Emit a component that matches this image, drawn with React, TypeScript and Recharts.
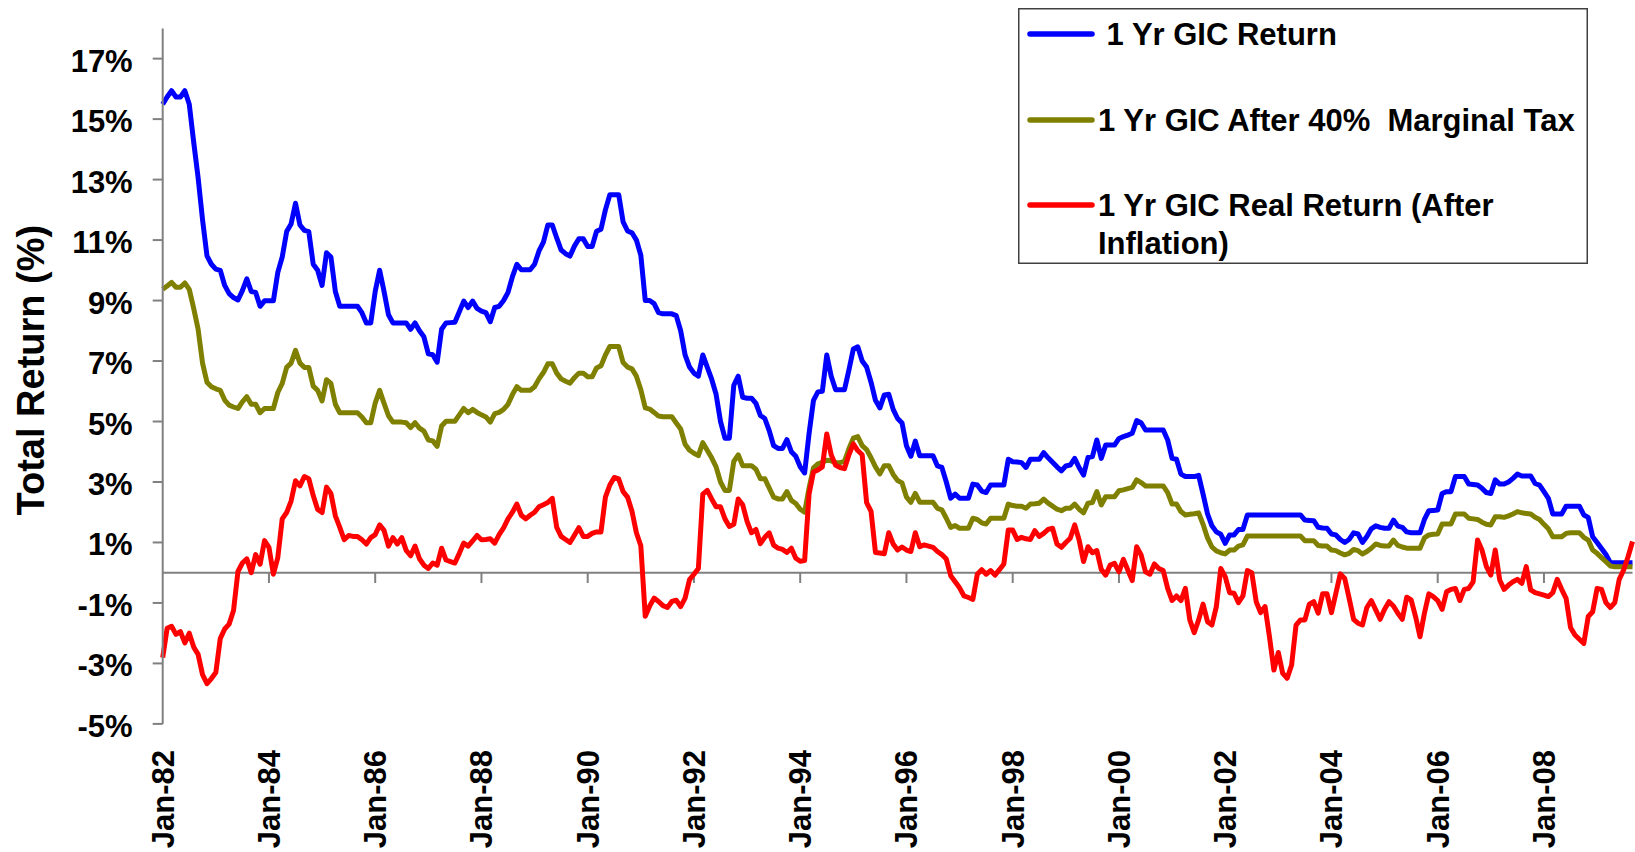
import { LineChart, Line, XAxis, YAxis, ReferenceLine, Legend } from "recharts";

const FONT = 'Arial, "Liberation Sans", Helvetica, sans-serif';

// monthly series, Jan-82 .. Sep-09, one row per year
const gicReturn = [
  15.49, 15.73, 15.94, 15.73, 15.73, 15.94, 15.49, 14.24, 13.06, 11.67, 10.48, 10.2,
  10.04, 10.0, 9.5, 9.23, 9.1, 9.02, 9.33, 9.72, 9.3, 9.27, 8.81, 8.99,
  8.99, 8.99, 9.93, 10.44, 11.28, 11.53, 12.22, 11.5, 11.32, 11.28, 10.2, 10.0,
  9.5, 10.58, 10.44, 9.3, 8.81, 8.81, 8.81, 8.81, 8.81, 8.6, 8.26, 8.26,
  9.3, 10.0, 9.3, 8.53, 8.26, 8.26, 8.26, 8.26, 8.05, 8.26, 8.0, 7.8,
  7.24, 7.21, 6.96, 8.05, 8.26, 8.27, 8.28, 8.63, 8.98, 8.77, 8.98, 8.74,
  8.65, 8.6, 8.3, 8.77, 8.81, 9.0, 9.27, 9.79, 10.2, 10.02, 10.02, 10.02,
  10.2, 10.64, 10.93, 11.5, 11.5, 11.07, 10.67, 10.55, 10.47, 10.8, 11.04, 11.04,
  10.79, 10.79, 11.29, 11.36, 12.0, 12.5, 12.5, 12.5, 11.6, 11.3, 11.24, 11.0,
  10.5, 9.0, 9.0, 8.9, 8.6, 8.56, 8.56, 8.56, 8.5, 8.0, 7.2, 6.8,
  6.6, 6.5, 7.2, 6.8, 6.4, 5.9, 5.0, 4.45, 4.45, 6.2, 6.5, 5.8,
  5.77, 5.77, 5.6, 5.2, 5.1, 4.7, 4.2, 4.11, 4.11, 4.4, 4.0, 3.85,
  3.5, 3.3, 4.6, 5.7, 5.98, 6.0, 7.2, 6.5, 6.05, 6.05, 6.05, 6.7,
  7.4, 7.47, 7.0, 6.8, 6.3, 5.7, 5.45, 5.88, 5.9, 5.4, 5.1, 4.95,
  4.2, 3.85, 4.35, 3.87, 3.87, 3.87, 3.87, 3.53, 3.48, 3.0, 2.46, 2.6,
  2.46, 2.46, 2.46, 2.93, 2.9, 2.7, 2.65, 2.9, 2.9, 2.9, 2.9, 3.75,
  3.67, 3.66, 3.64, 3.48, 3.75, 3.75, 3.75, 3.97, 3.8, 3.65, 3.5, 3.37,
  3.53, 3.56, 3.78, 3.48, 3.23, 3.81, 3.84, 4.39, 3.78, 4.22, 4.22, 4.22,
  4.44, 4.5, 4.55, 4.61, 5.03, 4.96, 4.72, 4.72, 4.72, 4.72, 4.72, 4.39,
  3.78, 3.75, 3.26, 3.18, 3.18, 3.18, 3.22, 2.6, 1.95, 1.55, 1.35, 1.27,
  0.97, 1.25, 1.25, 1.43, 1.43, 1.91, 1.91, 1.91, 1.91, 1.91, 1.91, 1.91,
  1.91, 1.91, 1.91, 1.91, 1.91, 1.91, 1.74, 1.73, 1.72, 1.5, 1.48, 1.47,
  1.28, 1.25, 1.1, 1.0, 1.1, 1.32, 1.28, 1.0, 1.2, 1.45, 1.55, 1.5,
  1.47, 1.47, 1.74, 1.54, 1.5, 1.35, 1.32, 1.32, 1.32, 1.76, 2.05, 2.06,
  2.07, 2.62, 2.68, 2.68, 3.18, 3.18, 3.18, 2.93, 2.92, 2.9, 2.79, 2.65,
  2.62, 3.07, 2.93, 2.93, 3.0, 3.12, 3.26, 3.2, 3.2, 3.2, 2.95, 2.9,
  2.68, 2.46, 1.94, 1.94, 1.94, 2.2, 2.2, 2.2, 2.2, 1.91, 1.83, 1.19,
  1.0, 0.8, 0.6, 0.33, 0.33, 0.33, 0.33, 0.33, 0.33,
];

const afterTax = [
  9.37, 9.48, 9.6, 9.44, 9.44, 9.58, 9.37, 8.74, 8.05, 6.93, 6.3, 6.15,
  6.08, 6.03, 5.71, 5.54, 5.48, 5.43, 5.65, 5.82, 5.57, 5.57, 5.29, 5.43,
  5.43, 5.43, 5.96, 6.26, 6.79, 6.93, 7.35, 6.93, 6.79, 6.79, 6.17, 6.03,
  5.68, 6.38, 6.26, 5.57, 5.29, 5.29, 5.29, 5.29, 5.29, 5.15, 4.96, 4.96,
  5.61, 6.03, 5.6, 5.19, 4.98, 4.98, 4.98, 4.96, 4.8, 4.96, 4.78, 4.68,
  4.39, 4.36, 4.18, 4.85, 5.01, 5.01, 5.01, 5.22, 5.43, 5.29, 5.4, 5.3,
  5.22, 5.15, 4.98, 5.26, 5.3, 5.4, 5.57, 5.89, 6.15, 6.03, 6.03, 6.03,
  6.15, 6.41, 6.62, 6.91, 6.91, 6.6, 6.41, 6.33, 6.27, 6.45, 6.6, 6.6,
  6.48, 6.48, 6.77, 6.84, 7.2, 7.48, 7.48, 7.48, 6.95, 6.8, 6.74, 6.5,
  6.05, 5.45, 5.41, 5.3, 5.18, 5.16, 5.16, 5.16, 4.95, 4.75, 4.25, 4.05,
  3.95, 3.87, 4.3, 4.05, 3.8, 3.5, 3.0, 2.72, 2.72, 3.68, 3.9, 3.54,
  3.54, 3.54, 3.42, 3.11, 3.11, 2.8, 2.5, 2.44, 2.44, 2.68, 2.39, 2.29,
  2.1, 2.0, 2.8, 3.47, 3.6, 3.65, 3.72, 3.7, 3.64, 3.64, 3.68, 4.1,
  4.45, 4.5, 4.2, 4.07, 3.8, 3.5, 3.27, 3.54, 3.54, 3.25, 3.05, 2.97,
  2.5, 2.33, 2.62, 2.33, 2.33, 2.33, 2.33, 2.13, 2.08, 1.8, 1.5, 1.56,
  1.47, 1.47, 1.47, 1.8, 1.76, 1.65, 1.61, 1.8, 1.8, 1.8, 1.8, 2.27,
  2.22, 2.2, 2.2, 2.13, 2.27, 2.28, 2.3, 2.43, 2.3, 2.2, 2.1, 2.05,
  2.13, 2.13, 2.27, 2.1, 1.98, 2.3, 2.32, 2.68, 2.24, 2.51, 2.51, 2.51,
  2.71, 2.74, 2.78, 2.82, 3.07, 2.98, 2.87, 2.87, 2.87, 2.87, 2.87, 2.65,
  2.27, 2.27, 2.02, 1.91, 1.93, 1.95, 1.98, 1.6, 1.15, 0.85, 0.72, 0.66,
  0.62, 0.75, 0.75, 0.88, 0.92, 1.21, 1.21, 1.21, 1.21, 1.21, 1.21, 1.21,
  1.21, 1.21, 1.21, 1.21, 1.21, 1.21, 1.06, 1.06, 1.06, 0.9, 0.88, 0.88,
  0.75, 0.73, 0.65, 0.59, 0.64, 0.77, 0.73, 0.62, 0.7, 0.81, 0.95, 0.9,
  0.88, 0.88, 1.08, 0.9, 0.85, 0.81, 0.81, 0.81, 0.81, 1.15, 1.25, 1.27,
  1.28, 1.61, 1.61, 1.61, 1.94, 1.94, 1.94, 1.8, 1.78, 1.76, 1.67, 1.6,
  1.58, 1.85, 1.85, 1.83, 1.88, 1.94, 2.02, 1.98, 1.96, 1.94, 1.83, 1.76,
  1.6, 1.45, 1.19, 1.19, 1.19, 1.3, 1.32, 1.32, 1.32, 1.17, 1.08, 0.75,
  0.64, 0.5, 0.36, 0.22, 0.2, 0.2, 0.2, 0.2, 0.2,
];

const realReturn = [
  -2.81, -1.84, -1.77, -2.04, -1.95, -2.32, -2.0, -2.46, -2.7, -3.37, -3.67, -3.5,
  -3.3, -2.18, -1.86, -1.7, -1.25, 0.04, 0.32, 0.46, 0.0, 0.6, 0.28, 1.06,
  0.84, -0.05, 0.5, 1.78, 1.99, 2.37, 3.04, 2.87, 3.18, 3.11, 2.55, 2.09,
  1.99, 2.83, 2.62, 1.88, 1.5, 1.09, 1.23, 1.2, 1.2, 1.09, 0.95, 1.16,
  1.26, 1.58, 1.4, 0.88, 1.16, 0.95, 1.16, 0.74, 0.56, 0.88, 0.46, 0.25,
  0.14, 0.32, 0.25, 0.81, 0.42, 0.37, 0.32, 0.64, 0.98, 0.88, 1.05, 1.23,
  1.09, 1.1, 1.12, 0.98, 1.26, 1.48, 1.78, 2.0, 2.27, 1.9, 1.78, 1.9,
  2.0, 2.18, 2.25, 2.32, 2.46, 1.5, 1.2, 1.1, 1.0, 1.24, 1.49, 1.2,
  1.2, 1.3, 1.35, 1.35, 2.5, 2.9, 3.15, 3.1, 2.68, 2.5, 2.03, 1.32,
  0.89, -1.44, -1.1, -0.84, -0.95, -1.09, -1.15, -0.95, -0.91, -1.12, -0.84, -0.23,
  -0.05, 0.14, 2.6, 2.72, 2.44, 2.18, 2.18, 1.78, 1.53, 1.6, 2.44, 2.25,
  1.7, 1.32, 1.43, 0.96, 1.17, 1.32, 0.91, 0.81, 0.77, 0.67, 0.81, 0.48,
  0.38, 0.4, 2.6, 3.33, 3.4, 3.5, 4.59, 3.9, 3.55, 3.48, 3.44, 3.9,
  4.26, 4.04, 3.9, 2.32, 2.03, 0.67, 0.65, 0.63, 1.32, 0.95, 0.75, 0.85,
  0.75, 0.7, 1.32, 0.86, 0.92, 0.88, 0.84, 0.7, 0.6, 0.45, -0.1, -0.3,
  -0.5, -0.77, -0.82, -0.88, -0.05, 0.1, -0.05, 0.07, -0.08, 0.1, 0.29, 1.41,
  1.41, 1.1, 1.17, 1.12, 1.1, 1.39, 1.2, 1.3, 1.43, 1.47, 0.95, 0.84,
  1.0, 1.14, 1.58, 1.08, 0.37, 0.86, 0.66, 0.73, 0.11, -0.08, 0.25, 0.31,
  0.03, 0.44, 0.09, -0.26, 0.86, 0.59, 0.03, -0.05, 0.29, 0.14, 0.07, -0.52,
  -0.92, -0.77, -0.92, -0.52, -1.56, -1.98, -1.56, -1.04, -1.62, -1.73, -1.12, 0.14,
  -0.13, -0.66, -0.68, -0.99, -0.77, 0.07, 0.0, -0.96, -1.32, -1.12, -2.12, -3.22,
  -2.64, -3.33, -3.49, -3.05, -1.73, -1.56, -1.56, -1.04, -0.96, -1.34, -0.7, -0.7,
  -1.32, -0.68, -0.04, -0.19, -0.85, -1.54, -1.67, -1.73, -1.15, -0.92, -1.23, -1.54,
  -1.21, -0.96, -1.1, -1.34, -1.54, -0.81, -0.9, -1.45, -2.12, -1.34, -0.7, -0.79,
  -0.92, -1.21, -0.63, -0.55, -0.52, -0.92, -0.55, -0.52, -0.3, 1.08, 0.75, 0.2,
  -0.08, 0.75, -0.24, -0.55, -0.41, -0.3, -0.22, -0.35, 0.2, -0.57, -0.66, -0.7,
  -0.74, -0.79, -0.66, -0.22, -0.55, -0.85, -1.81, -2.06, -2.2, -2.34, -1.45, -1.29,
  -0.52, -0.55, -0.99, -1.15, -0.99, -0.22, 0.09, 0.53, 1.03,
];

const monthNames = ["Jan", "Feb", "Mar", "Apr", "May", "Jun", "Jul", "Aug", "Sep", "Oct", "Nov", "Dec"];
const yTicks = [-5, -3, -1, 1, 3, 5, 7, 9, 11, 13, 15, 17];

const categories = gicReturn.map((_, i) => {
  const yy = (82 + Math.floor(i / 12)) % 100;
  return `${monthNames[i % 12]}-${String(yy).padStart(2, "0")}`;
});
const yearTicks = categories.filter((_, i) => i % 24 === 0);

const data = categories.map((month, i) => ({
  month,
  gic: gicReturn[i],
  afterTax: afterTax[i],
  real: realReturn[i],
}));

const MonthTick = (props: any) => {
  const { x, y, payload } = props;
  const ty = y + 26;
  return (
    <text
      x={x}
      y={ty}
      dy={11}
      transform={`rotate(-90 ${x} ${ty})`}
      textAnchor="end"
      fontSize={31}
      fontWeight="bold"
      fontFamily={FONT}
      fill="#000"
    >
      {payload.value}
    </text>
  );
};

const AxisTitle = (props: any) => {
  const vb = props.viewBox || { y: 28, height: 696 };
  const cx = 30;
  const cy = vb.y + vb.height / 2 - 6;
  return (
    <text
      x={cx}
      y={cy}
      dy={14}
      transform={`rotate(-90 ${cx} ${cy})`}
      textAnchor="middle"
      fontSize={38}
      fontWeight="bold"
      fontFamily={FONT}
      fill="#000"
    >
      Total Return (%)
    </text>
  );
};

const legendItems = [
  { color: "#0000FF", y: 26, lines: [" 1 Yr GIC Return"] },
  { color: "#808000", y: 112, lines: ["1 Yr GIC After 40%  Marginal Tax"] },
  { color: "#FF0000", y: 197, lines: ["1 Yr GIC Real Return (After", "Inflation)"] },
];

const GicLegend = () => (
  <svg width={570} height={256} style={{ display: "block" }}>
    <rect x={0.75} y={0.75} width={568.5} height={254.5} fill="#fff" stroke="#404040" strokeWidth={1.5} />
    {legendItems.map((it) => (
      <g key={it.color}>
        <line x1={12} x2={74} y1={it.y} y2={it.y} stroke={it.color} strokeWidth={5.5} strokeLinecap="round" />
        {it.lines.map((t, k) => (
          <text
            key={k}
            x={80}
            y={it.y + 11 + k * 38}
            fontSize={31}
            fontWeight="bold"
            fontFamily={FONT}
            fill="#000"
            style={{ whiteSpace: "pre" }}
          >
            {t}
          </text>
        ))}
      </g>
    ))}
  </svg>
);

export default function App() {
  return (
    <div style={{ position: "absolute", left: 0, top: 0, background: "#fff" }}>
      <LineChart width={1635} height={852} data={data} margin={{ top: 28.4, right: 2.5, left: 0, bottom: 0 }}>
        <XAxis
          dataKey="month"
          interval={23}
          tick={<MonthTick />}
          tickLine={false}
          axisLine={false}
          tickSize={0}
          tickMargin={0}
          height={128.1}
        />
        <YAxis
          type="number"
          domain={[-5, 18]}
          ticks={yTicks}
          allowDataOverflow
          tickFormatter={(v: number) => `${v}%`}
          width={162.7}
          tickSize={10}
          tickMargin={20}
          axisLine={{ stroke: "#808080", strokeWidth: 2 }}
          tickLine={{ stroke: "#808080", strokeWidth: 2 }}
          tick={{ fontSize: 31, fontWeight: "bold", fill: "#000", fontFamily: FONT, dy: 2 }}
          label={<AxisTitle />}
        />
        <ReferenceLine y={0} stroke="#808080" strokeWidth={2} />
        {yearTicks.map((c) => (
          <ReferenceLine
            key={c}
            segment={[{ x: c, y: 0 }, { x: c, y: -0.34 }]}
            stroke="#808080"
            strokeWidth={2}
          />
        ))}
        <Legend
          layout="vertical"
          align="center"
          verticalAlign="middle"
          content={<GicLegend />}
          wrapperStyle={{ left: 1017.7, top: 8.3, width: 570, height: 256 }}
        />
        <Line type="linear" dataKey="gic" stroke="#0000FF" strokeWidth={5} dot={false} strokeLinejoin="round" isAnimationActive={false} />
        <Line type="linear" dataKey="afterTax" stroke="#808000" strokeWidth={5} dot={false} strokeLinejoin="round" isAnimationActive={false} />
        <Line type="linear" dataKey="real" stroke="#FF0000" strokeWidth={5} dot={false} strokeLinejoin="round" isAnimationActive={false} />
      </LineChart>
    </div>
  );
}
